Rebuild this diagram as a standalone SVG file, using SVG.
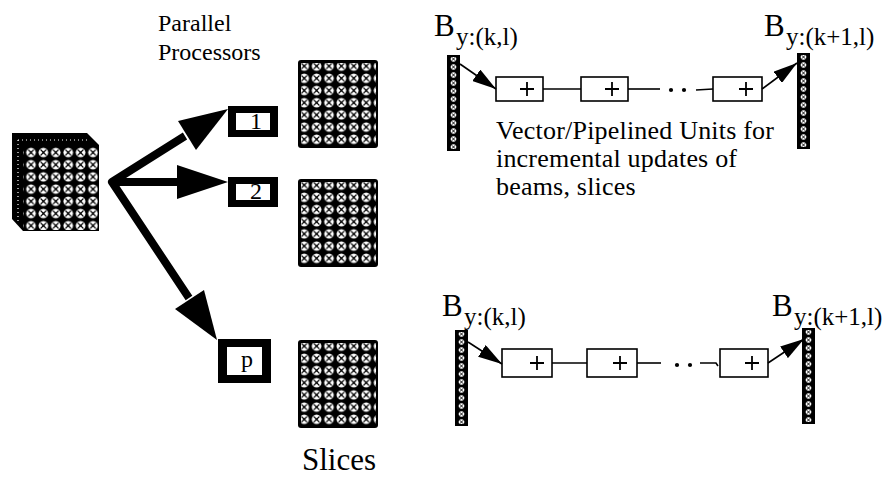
<svg xmlns="http://www.w3.org/2000/svg" xmlns:xlink="http://www.w3.org/1999/xlink" width="891" height="481" viewBox="0 0 891 481">
<style>
  .t { font-family: "Liberation Serif", "Times New Roman", serif; fill: #000; }
  .lbl { font-size: 24px; }
  .big { font-size: 31px; }
  .sub { font-size: 25px; }
  .txt { font-size: 26px; letter-spacing: 0.2px; }
  .thin { stroke: #000; stroke-width: 1.6; fill: none; }
  .unit { fill: #fff; stroke: #000; stroke-width: 1.6; }
  .plus { stroke: #000; stroke-width: 1.8; fill: none; }
  .thick { stroke: #000; stroke-width: 8; fill: none; stroke-linejoin: round; }
</style>
<defs>
  <pattern id="dots" patternUnits="userSpaceOnUse" x="0" y="0" width="12.4" height="12.2">
    <rect width="12.4" height="12.2" fill="#000"/>
    <circle cx="6.2" cy="6.1" r="4.8" fill="#fff"/>
    <path d="M3.4 3.3 L9 8.9 M9 3.3 L3.4 8.9" stroke="#000" stroke-width="1.1"/>
    <circle cx="6.2" cy="6.1" r="1" fill="#000"/>
  </pattern>
  <pattern id="bardots" patternUnits="userSpaceOnUse" x="0" y="0" width="13" height="8">
    <rect width="13" height="8" fill="#000"/>
    <circle cx="6.5" cy="4" r="2.8" fill="#fff"/>
    <path d="M4.7 2.2 L8.3 5.8 M8.3 2.2 L4.7 5.8" stroke="#000" stroke-width="0.9"/>
  </pattern>
  <g id="slice">
    <rect x="0" y="0" width="80" height="88" rx="3" fill="#000"/>
    <rect x="3" y="3" width="75" height="83" fill="url(#dots)"/>
  </g>
  <g id="bar">
    <rect x="0" y="0" width="13" height="96" fill="#000"/>
    <rect x="0" y="2" width="13" height="92" fill="url(#bardots)"/>
  </g>
  <marker id="ah" viewBox="0 0 24 14" refX="24" refY="7" markerWidth="24" markerHeight="14" markerUnits="userSpaceOnUse" orient="auto">
    <path d="M0 0 L24 7 L0 14 Z" fill="#000"/>
  </marker>
</defs>

<!-- Labels -->
<text class="t lbl" x="158" y="31" font-size="24.5">Parallel</text>
<text class="t lbl" x="158" y="60" font-size="24.5">Processors</text>
<text class="t big" x="302" y="470" font-size="29">Slices</text>

<!-- Volume stack -->
<g id="volume">
  <polygon points="12,133 87,133 99,145 99,231 23,231 12,219" fill="#000"/>
  <line x1="18" y1="140" x2="88" y2="140" stroke="#fff" stroke-width="1.2" stroke-dasharray="1 3"/>
  <line x1="18" y1="140" x2="18" y2="222" stroke="#fff" stroke-width="1.2" stroke-dasharray="1 3"/>
  <rect x="23" y="146" width="75" height="84" fill="url(#dots)"/>
</g>

<!-- Processors -->
<g id="proc1">
  <rect x="228" y="106" width="50" height="31" fill="#000"/>
  <rect x="236" y="113" width="34" height="17" fill="#fff"/>
  <text class="t lbl" x="256" y="129" text-anchor="middle" font-size="22">1</text>
</g>
<g id="proc2">
  <rect x="228" y="177" width="50" height="30" fill="#000"/>
  <rect x="236" y="184" width="34" height="16" fill="#fff"/>
  <text class="t lbl" x="256" y="199" text-anchor="middle" font-size="22">2</text>
</g>
<g id="procp">
  <rect x="218" y="339" width="53" height="44" fill="#000"/>
  <rect x="227" y="347" width="35" height="28" fill="#fff"/>
  <text class="t lbl" x="247" y="367" text-anchor="middle" font-size="22">p</text>
</g>

<!-- Slices -->
<g id="slice1"><use xlink:href="#slice" href="#slice" transform="translate(298,60)"/></g>
<g id="slice2"><use xlink:href="#slice" href="#slice" transform="translate(298,179)"/></g>
<g id="slice3"><use xlink:href="#slice" href="#slice" transform="translate(298,340)"/></g>

<!-- Pipeline top -->
<g id="pipe-top">
  <g id="beam-top-left">
    <text class="t big" x="434" y="36">B</text>
    <text class="t sub" x="456" y="45">y:(k,l)</text>
    <use xlink:href="#bar" href="#bar" transform="translate(447,55)"/>
  </g>
  <g id="beam-top-right">
    <text class="t big" x="764" y="36">B</text>
    <text class="t sub" x="786" y="45">y:(k+1,l)</text>
    <use xlink:href="#bar" href="#bar" transform="translate(797,53)"/>
  </g>
  <g id="unit-t1"><rect class="unit" x="496" y="77" width="47" height="24"/><path class="plus" d="M520 89 h14 M527 82 v14"/></g>
  <g id="unit-t2"><rect class="unit" x="581" y="77" width="47" height="24"/><path class="plus" d="M605 89 h14 M612 82 v14"/></g>
  <g id="unit-t3"><rect class="unit" x="713" y="77" width="49" height="24"/><path class="plus" d="M739 89 h14 M746 82 v14"/></g>
  <text class="t txt" x="496" y="139">Vector/Pipelined Units for</text>
  <text class="t txt" x="496" y="167">incremental updates of</text>
  <text class="t txt" x="496" y="195">beams, slices</text>
</g>

<!-- Pipeline bottom -->
<g id="pipe-bottom">
  <g id="beam-bot-left">
    <text class="t big" x="442" y="316">B</text>
    <text class="t sub" x="464" y="325">y:(k,l)</text>
    <use xlink:href="#bar" href="#bar" transform="translate(455,330)"/>
  </g>
  <g id="beam-bot-right">
    <text class="t big" x="772" y="316">B</text>
    <text class="t sub" x="794" y="325">y:(k+1,l)</text>
    <use xlink:href="#bar" href="#bar" transform="translate(802,328)"/>
  </g>
  <g id="unit-b1"><rect class="unit" x="502" y="349" width="50" height="28"/><path class="plus" d="M530 363 h14 M537 356 v14"/></g>
  <g id="unit-b2"><rect class="unit" x="587" y="349" width="50" height="28"/><path class="plus" d="M613 363 h14 M620 356 v14"/></g>
  <g id="unit-b3"><rect class="unit" x="720" y="349" width="48" height="28"/><path class="plus" d="M745 363 h14 M752 356 v14"/></g>
</g>

<!-- Connectors -->
<g id="connectors">
  <!-- fan-out thick arrows -->
  <path class="thick" d="M185 136 L112 182 L178 182 M112 182 L189 298"/>
  <polygon points="228,109 196,150 178,121" fill="#000"/>
  <polygon points="228,182 177,165 177,199" fill="#000"/>
  <polygon points="217,340 175,309 204,290" fill="#000"/>

  <!-- top pipeline -->
  <line class="thin" x1="460" y1="64" x2="496" y2="89" marker-end="url(#ah)"/>
  <line class="thin" x1="543" y1="89" x2="581" y2="89"/>
  <line class="thin" x1="628" y1="89" x2="660" y2="89"/>
  <circle cx="671" cy="90" r="2.1" fill="#000"/>
  <circle cx="684" cy="90" r="2.1" fill="#000"/>
  <line class="thin" x1="696" y1="90" x2="713" y2="89"/>
  <line class="thin" x1="762" y1="89" x2="797" y2="63" marker-end="url(#ah)"/>

  <!-- bottom pipeline -->
  <line class="thin" x1="468" y1="342" x2="502" y2="364" marker-end="url(#ah)"/>
  <line class="thin" x1="552" y1="363" x2="587" y2="363"/>
  <line class="thin" x1="637" y1="363" x2="661" y2="363"/>
  <circle cx="677" cy="365" r="2.1" fill="#000"/>
  <circle cx="690" cy="365" r="2.1" fill="#000"/>
  <path class="thin" d="M700 363 L716 363 L718 366"/>
  <line class="thin" x1="768" y1="363" x2="804" y2="339" marker-end="url(#ah)"/>
</g>
</svg>
